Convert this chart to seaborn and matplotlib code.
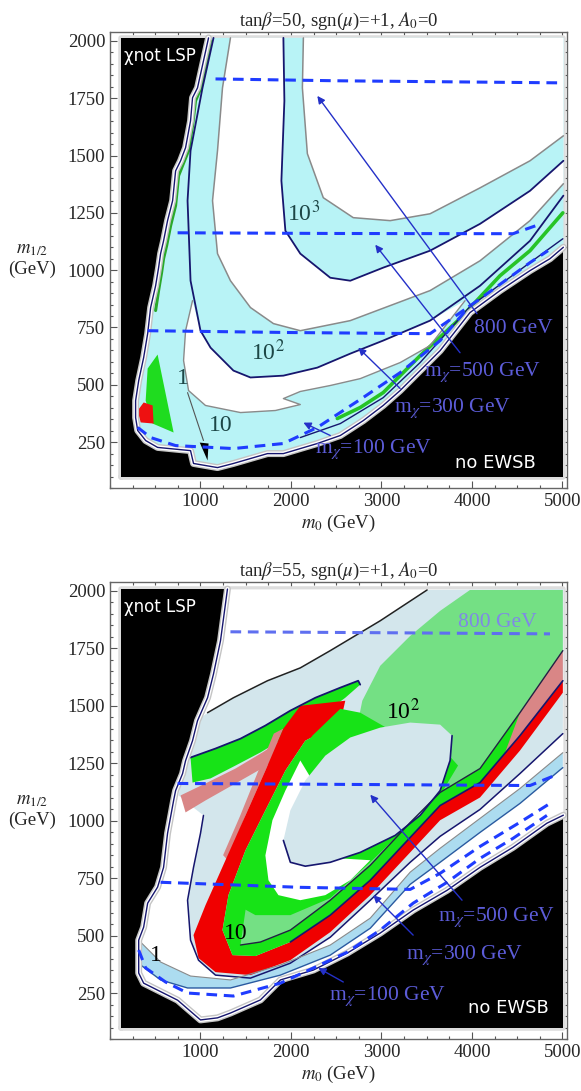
import numpy as np
import matplotlib
matplotlib.use("Agg")
import matplotlib.pyplot as plt
import seaborn as sns
from matplotlib.ticker import MultipleLocator

# ---------------- data (m0, m12 in GeV) ----------------
grid_m0 = [118, 5010]
grid_m12 = {"top": [96, 2013], "bot": [98, 2008]}

# tan(beta)=50 panel
top_allowed = [(1089, 2013), (1033, 1913), (967, 1795), (912, 1752), (890, 1651), (835, 1534),
               (780, 1477), (725, 1433), (692, 1303), (636, 1216), (592, 1128), (559, 1072),
               (537, 1011), (504, 932), (449, 837), (416, 723), (372, 619), (317, 518),
               (283, 431), (283, 357), (306, 301), (394, 257), (526, 227), (890, 213),
               (923, 157), (1188, 139), (1364, 157), (1740, 200), (1916, 200), (2291, 244),
               (2545, 279), (2799, 344), (3019, 410), (3206, 475), (3427, 562), (3648, 649),
               (3978, 815), (4310, 911), (4641, 998), (4862, 1050), (5010, 1100)]
top_n1 = [(1144, 2013), (1022, 1795), (890, 1521), (857, 1303), (890, 954), (1000, 736),
          (1111, 662), (1364, 562), (1552, 532), (1916, 540), (2291, 575), (2655, 636),
          (3019, 693), (3537, 780), (4089, 932), (4641, 1128), (5010, 1325)]
top_g1 = [(1331, 2013), (1243, 1795), (1188, 1521), (1133, 1303), (1188, 1072), (1331, 954),
          (1552, 837), (1806, 767), (2103, 736), (2655, 780), (3537, 911), (4089, 1041),
          (4641, 1216), (5010, 1377)]
top_n3 = [(1916, 2013), (1927, 1738), (1894, 1390), (1938, 1172), (2103, 1072), (2434, 967),
          (2655, 954), (3019, 1011), (3537, 1085), (4089, 1202), (4641, 1346), (5010, 1477)]
top_g3 = [(2137, 2013), (2126, 1795), (2181, 1508), (2357, 1316), (2688, 1229), (3096, 1216),
          (3537, 1246), (4089, 1359), (4641, 1477), (5010, 1586)]
top_pocket = [(912, 867), (835, 736), (813, 606), (868, 475), (1055, 410), (1442, 379),
              (1828, 388), (2103, 414), (1916, 440), (2103, 471), (2434, 497), (2765, 527),
              (3206, 597), (3537, 671), (3923, 867), (3537, 780), (3019, 693), (2655, 636),
              (2291, 575), (1916, 540), (1552, 532), (1364, 562), (1111, 662), (1000, 736)]
top_green_tri = [(416, 571), (526, 632), (703, 292), (471, 331), (394, 431)]
top_red_blob = [(306, 388), (372, 423), (471, 410), (482, 331), (339, 336)]
top_black_notch = [(992, 248), (1089, 244), (1078, 170)]
top_green_edge = [(1111, 2000), (1066, 1913), (1000, 1790), (945, 1738), (912, 1629),
                  (868, 1521), (802, 1456), (758, 1412), (725, 1282), (670, 1194),
                  (626, 1107), (592, 1050), (570, 989), (537, 911), (504, 824)]
top_green_diag = [(2512, 353), (2765, 401), (3019, 466), (3427, 627), (3868, 789),
                  (4310, 976), (4641, 1085), (5004, 1250)]
top_navy_diag = [(2103, 270), (2545, 331), (3019, 444), (3427, 597), (3978, 841),
                 (4641, 1033), (5004, 1137)]
top_mchi = {
    800: [(1166, 1834), (2500, 1826), (4951, 1817)],
    500: [(747, 1163), (2500, 1160), (4453, 1159), (4750, 1200)],
    300: [(416, 736), (2000, 728), (3537, 723), (4089, 875), (4641, 1033), (4840, 1085)],
    100: [(306, 314), (449, 270), (725, 235), (1364, 222), (1916, 244), (2291, 314),
          (2799, 445), (3206, 553), (3648, 693), (3978, 846)],
}
top_arrows = [((4056, 810), (2291, 1760)), ((3868, 640), (2931, 1111)),
              ((3206, 484), (2743, 662)), ((2434, 279), (2137, 335))]
top_mchi_text = [("800 GeV", 4453, 745), (r"m$_\chi$=500 GeV", 4122, 553),
                 (r"m$_\chi$=300 GeV", 3780, 396), (r"m$_\chi$=100 GeV", 2909, 218)]
top_contour_text = [(r"10$^3$", 2137, 1246), (r"10$^2$", 1740, 640), ("10", 1221, 322), ("1", 802, 527)]
top_one_pointer = [(857, 466), (1033, 257)]

# tan(beta)=55 panel
bot_allowed = [(1298, 2008), (1221, 1783), (1144, 1639), (1078, 1535), (967, 1435), (912, 1348),
               (835, 1261), (802, 1205), (725, 1131), (703, 1088), (636, 945), (592, 797),
               (526, 711), (416, 641), (372, 537), (317, 480), (317, 337), (372, 293),
               (747, 219), (1000, 133), (1188, 142), (1331, 163), (1662, 220), (1883, 307),
               (2247, 350), (2622, 424), (2986, 511), (3350, 611), (3725, 697), (4089, 797),
               (4453, 884), (4828, 989), (5010, 1024)]
bot_lb_top = [(1078, 1470), (1364, 1535), (1740, 1609), (2103, 1665), (2434, 1740),
              (2986, 1870), (3504, 2004)]
bot_e0 = [(5004, 1379), (4530, 1205), (4089, 1049), (3648, 932), (3317, 819), (2876, 654),
          (2434, 493), (1993, 380), (1552, 315), (1166, 328), (978, 393), (890, 480),
          (857, 654), (923, 797), (1000, 945), (1033, 1023)]
bot_lb_left = [(890, 1067), (758, 1110), (802, 1205), (835, 1262), (912, 1348), (967, 1435)]
bot_ls = [(317, 480), (559, 385), (890, 324), (1331, 307), (1883, 372), (2434, 459), (2876, 576),
          (3317, 776), (3648, 880), (4089, 1010), (4530, 1140), (5004, 1296), (5004, 1231),
          (4530, 1075), (4089, 949), (3648, 819), (3317, 723), (2876, 532), (2434, 415),
          (1883, 328), (1331, 272), (857, 272), (559, 307), (339, 372), (295, 437)]
bot_tongue = [(890, 1275), (1166, 1314), (1442, 1357), (1717, 1414), (1993, 1479), (2269, 1535),
              (2545, 1579), (2743, 1609), (2765, 1592), (2600, 1535), (2379, 1470), (2103, 1401),
              (1938, 1362), (1662, 1297), (1387, 1240), (1111, 1184), (912, 1166)]
bot_pink_arm = [(780, 1110), (1055, 1162), (1387, 1227), (1685, 1297), (1938, 1362), (2015, 1314),
                (1717, 1236), (1387, 1162), (1055, 1088), (835, 1036)]
bot_pink_stem = [(1916, 1401), (1810, 1379), (1640, 1218), (1440, 1023), (1250, 850),
                 (1300, 828), (1497, 1023), (1717, 1218)]
bot_red = [(2600, 1522), (2103, 1500), (1916, 1401), (1717, 1218), (1497, 1023), (1276, 828),
           (1055, 632), (923, 502), (978, 402), (1166, 341), (1552, 328), (1993, 393),
           (2434, 515), (2876, 676), (3317, 862), (3648, 1002), (4089, 1101), (4530, 1305),
           (5004, 1557)]
bot_red_inner = [(5004, 1609), (4530, 1370), (4089, 1166), (3648, 1066), (3317, 927), (2876, 741),
                 (2434, 589), (1993, 472), (1607, 411), (1353, 415), (1243, 524), (1309, 676),
                 (1497, 871), (1717, 1045), (1938, 1218), (2158, 1348), (2545, 1427)]
bot_mg = [(3978, 2004), (5004, 2004), (5004, 1740), (4530, 1470), (4089, 1227), (3648, 1123),
          (3317, 992), (2876, 806), (2434, 654), (1993, 524), (1662, 472), (1442, 459),
          (1497, 610), (1607, 762), (1751, 914), (1938, 1088), (2103, 1218), (2324, 1305),
          (2710, 1370), (2788, 1522), (2986, 1674), (3317, 1804), (3648, 1913)]
bot_pink_wedge = [(5004, 1740), (5004, 1609), (4530, 1370), (4365, 1296), (4530, 1470), (4806, 1631)]
bot_ring = [(2545, 1487), (2236, 1370), (2015, 1240), (1773, 1036), (1530, 862), (1353, 706),
            (1409, 632), (1607, 589), (1993, 589), (2434, 663), (2876, 819), (3262, 966),
            (3648, 1110), (3846, 1240), (3648, 1327), (3206, 1370), (2765, 1470)]
bot_pocket = [(2103, 1262), (1938, 1131), (1795, 1002), (1717, 849), (1751, 741), (1861, 676),
              (2103, 654), (2379, 676), (2655, 741), (2876, 828), (2545, 836), (2214, 862),
              (2048, 923), (2103, 1045), (2236, 1175)]
bot_ellipse = [(1993, 819), (1916, 914), (1993, 1045), (2158, 1175), (2379, 1283), (2655, 1362),
               (2986, 1405), (3317, 1427), (3648, 1418), (3780, 1370), (3758, 1262), (3648, 1131),
               (3427, 1023), (3151, 936), (2765, 862), (2434, 819), (2158, 802)]
bot_mchi = {
    800: [(1331, 1822), (3000, 1818), (4862, 1813)],
    500: [(747, 1162), (3000, 1157), (4641, 1153), (4917, 1197)],
    300: [(559, 732), (2103, 710), (3317, 701), (3648, 771), (4089, 888), (4530, 993), (4862, 1075)],
    100: [(317, 437), (394, 359), (614, 298), (857, 250), (1364, 237), (1883, 293), (2247, 359),
          (2622, 428), (2986, 524), (3350, 641), (3725, 732), (4089, 836), (4453, 923), (4828, 1023)],
}
bot_arrows = [((3890, 654), (2876, 1113)), ((3350, 502), (2909, 676)), ((2578, 298), (2302, 359))]
bot_mchi_text = [("800 GeV", 4276, 1864), (r"m$_\chi$=500 GeV", 4268, 579),
                 (r"m$_\chi$=300 GeV", 3923, 415), (r"m$_\chi$=100 GeV", 3064, 237)]
bot_contour_text = [(r"10$^2$", 3240, 1474), ("10", 1387, 511), ("1", 504, 415)]

x_ticks = [1000, 2000, 3000, 4000, 5000]
y_ticks = [250, 500, 750, 1000, 1250, 1500, 1750, 2000]
titles = [r"tan$\beta$=50, sgn($\mu$)=+1, $A_0$=0", r"tan$\beta$=55, sgn($\mu$)=+1, $A_0$=0"]

# ---------------- styling ----------------
cyan = "#b8f3f6"
navy = "#16166e"
grey = "#8a8a8a"
dash_blue = "#1f3cff"
label_blue = "#5c5cd8"
arrow_blue = "#2430c8"

sns.set_theme(style="ticks")
plt.rcParams["font.family"] = ["Liberation Serif", "DejaVu Serif"]
plt.rcParams["mathtext.fontset"] = "stix"


def arr(pts):
    return np.asarray(pts, dtype=float)


def fill(ax, pts, color, z):
    a = arr(pts)
    ax.fill(a[:, 0], a[:, 1], color=color, lw=0, zorder=z)


def line(ax, pts, color, lw, z):
    a = arr(pts)
    ax.plot(a[:, 0], a[:, 1], color=color, lw=lw, zorder=z, solid_joinstyle="round")


def corner_close(pts, ymax):
    # close an open contour through the upper-right corner of the grid
    return list(pts) + [(grid_m0[1], ymax)]


def frame(ax, key, title):
    y0, y1 = grid_m12[key]
    black = [(grid_m0[0], y0), (grid_m0[1], y0), (grid_m0[1], y1), (grid_m0[0], y1)]
    fill(ax, black, "black", 1)
    b = arr(black + black[:1])
    ax.plot(b[:, 0], b[:, 1], color="#dddddd", lw=4, zorder=0.9)
    ax.set_xlim(0, 5050)
    ax.set_ylim(50, 2040)
    ax.set_xticks(x_ticks)
    ax.set_yticks(y_ticks)
    ax.xaxis.set_minor_locator(MultipleLocator(250))
    ax.yaxis.set_minor_locator(MultipleLocator(50))
    ax.tick_params(which="both", direction="in", top=True, right=True, labelsize=13.5,
                   color="#555555", width=0.8)
    ax.tick_params(which="major", length=5)
    ax.tick_params(which="minor", length=2.5)
    for s in ax.spines.values():
        s.set_color("#666666")
        s.set_linewidth(1.0)
    ax.set_title(title, fontsize=13.5, pad=4)
    ax.set_xlabel(r"$m_0$ (GeV)", fontsize=13.5, labelpad=2)
    ax.set_ylabel(r"$m_{1/2}$" + "\n(GeV)", fontsize=13.5, rotation=0, va="center", ha="center")
    ax.yaxis.set_label_coords(-0.17, 0.5)
    ax.text(grid_m0[0] + 40, y1 - 80, "χnot LSP", color="white", fontsize=12,
            family="DejaVu Sans", va="center", ha="left", zorder=30)


def outline(ax, pts):
    line(ax, pts, "#c4c4c4", 5.0, 20)
    line(ax, pts, "white", 3.0, 20.1)
    line(ax, pts, navy, 1.0, 20.2)


def dashed(ax, pts, color):
    a = arr(pts)
    sns.lineplot(x=a[:, 0], y=a[:, 1], sort=False, estimator=None, ax=ax, color=color,
                 lw=2.2, dashes=False, linestyle=(0, (3.5, 2.2)), zorder=25)


def arrows(ax, pairs, color):
    for tail, head in pairs:
        ax.annotate("", xy=head, xytext=tail, zorder=26,
                    arrowprops=dict(arrowstyle="-|>", color=color, lw=1.0, mutation_scale=11,
                                    shrinkA=0, shrinkB=0))


def mchi_labels(ax, items, color):
    for txt, x, y in items:
        ax.text(x, y, txt, color=color, fontsize=15.5, ha="center", va="center", zorder=27)


fig = plt.figure(figsize=(5.81, 10.91), dpi=100)
ax1 = fig.add_axes([110 / 581, 1 - 488 / 1091, 457 / 581, 456.3 / 1091])
ax2 = fig.add_axes([110 / 581, 1 - 1039 / 1091, 457 / 581, 457.3 / 1091])

# ---------------- top panel ----------------
ytop = grid_m12["top"][1]
frame(ax1, "top", titles[0])
fill(ax1, corner_close(top_allowed, ytop), cyan, 2)
fill(ax1, corner_close(top_g1, ytop), "white", 3)
fill(ax1, corner_close(top_n3, ytop), cyan, 4)
fill(ax1, corner_close(top_g3, ytop), "white", 5)
fill(ax1, top_pocket, "white", 6)
fill(ax1, top_green_tri, "#1fdc1f", 7)
fill(ax1, top_red_blob, "#ee1111", 8)
line(ax1, top_green_edge, "#2aa82a", 2.2, 9)
line(ax1, top_green_diag, "#27c427", 2.6, 9)
line(ax1, top_navy_diag, navy, 1.0, 10)
line(ax1, top_n1, navy, 1.3, 11)
line(ax1, top_n3, navy, 1.3, 11)
line(ax1, top_g1, grey, 1.1, 11)
line(ax1, top_g3, grey, 1.1, 11)
line(ax1, top_pocket[:15], grey, 1.0, 11)
outline(ax1, top_allowed)
fill(ax1, top_black_notch, "black", 21)
for pts in top_mchi.values():
    dashed(ax1, pts, dash_blue)
arrows(ax1, top_arrows, arrow_blue)
mchi_labels(ax1, top_mchi_text, label_blue)
for txt, x, y in top_contour_text:
    ax1.text(x, y, txt, color="#1c4646", fontsize=17, ha="center", va="center", zorder=27)
line(ax1, top_one_pointer, "#555555", 0.8, 26)
ax1.text(4254, 157, "no EWSB", color="white", fontsize=13, family="DejaVu Sans",
         ha="center", va="center", zorder=30)

# ---------------- bottom panel ----------------
ybot = grid_m12["bot"][1]
frame(ax2, "bot", titles[1])
fill(ax2, corner_close(bot_allowed, ybot), "white", 2)
fill(ax2, bot_lb_top + [(grid_m0[1], ybot)] + bot_e0 + bot_lb_left, "#d3e6ec", 3)
fill(ax2, bot_ls, "#acdcf0", 3.5)
fill(ax2, bot_tongue, "#17e317", 4)
fill(ax2, bot_pink_arm, "#d98686", 4.5)
fill(ax2, bot_pink_stem, "#d98686", 4.5)
fill(ax2, bot_red + bot_red_inner, "#f00000", 5)
fill(ax2, bot_red_inner, "#17e317", 6)
fill(ax2, bot_mg, "#74e084", 7)
fill(ax2, bot_pink_wedge, "#d98686", 8)
fill(ax2, bot_ring, "#17e317", 9)
fill(ax2, bot_pocket, "white", 10)
fill(ax2, bot_ellipse, "#d3e6ec", 11)
line(ax2, bot_lb_top, "#222222", 1.1, 15)
line(ax2, bot_e0, navy, 1.1, 15)
line(ax2, bot_tongue[:9], navy, 1.3, 15)
line(ax2, bot_red_inner[:8], navy, 1.2, 15)
line(ax2, bot_mg[2:12], "#222244", 1.0, 15)
line(ax2, bot_ellipse[9:] + bot_ellipse[:2], navy, 1.2, 15)
line(ax2, bot_ls[12:], "#2a5aa0", 1.0, 15)
line(ax2, bot_ls[:12], grey, 0.8, 15)
outline(ax2, bot_allowed)
dashed(ax2, bot_mchi[800], "#5f6ff0")
for key in (500, 300, 100):
    dashed(ax2, bot_mchi[key], dash_blue)
arrows(ax2, bot_arrows, arrow_blue)
bot_colors = ["#7f88e6", label_blue, label_blue, label_blue]
for (txt, x, y), c in zip(bot_mchi_text, bot_colors):
    ax2.text(x, y, txt, color=c, fontsize=15.5, ha="center", va="center", zorder=27)
for txt, x, y in bot_contour_text:
    ax2.text(x, y, txt, color="black", fontsize=17, ha="center", va="center", zorder=27)
ax2.text(4400, 185, "no EWSB", color="white", fontsize=13, family="DejaVu Sans",
         ha="center", va="center", zorder=30)

fig.savefig("out.png", dpi=100)
